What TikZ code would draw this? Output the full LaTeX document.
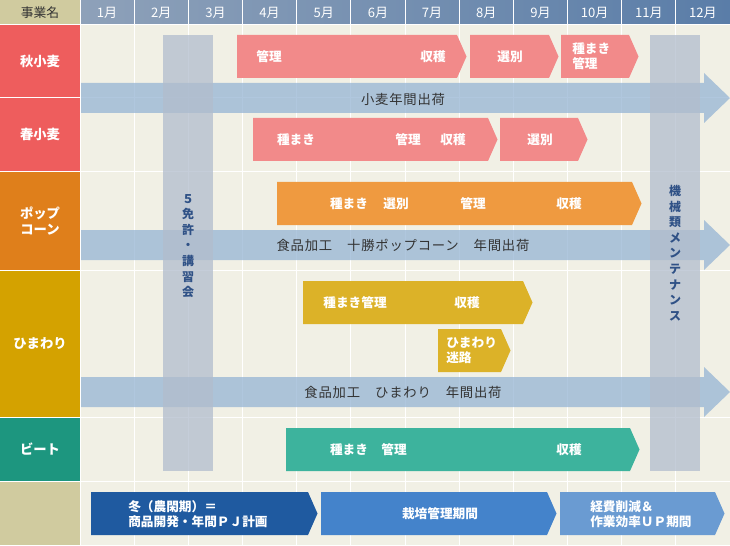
\documentclass[tikz,border=0pt]{standalone}
\usepackage{fontspec}
\setmainfont{Noto Sans CJK JP}
\usetikzlibrary{calc}
\definecolor{cream}{HTML}{F1F0E5}
\definecolor{khaki}{HTML}{D0CB9F}
\definecolor{hdleft}{HTML}{8EA1B9}
\definecolor{hdright}{HTML}{5A7DA8}
\definecolor{wheatlab}{HTML}{EE5D5D}
\definecolor{wheatbar}{HTML}{F28A8A}
\definecolor{poplab}{HTML}{DF7F1B}
\definecolor{popbar}{HTML}{EF9A40}
\definecolor{sunlab}{HTML}{D4A200}
\definecolor{sunbar}{HTML}{DCB228}
\definecolor{beetlab}{HTML}{1D967F}
\definecolor{beetbar}{HTML}{3DB39D}
\definecolor{shipblue}{RGB}{150,181,212}
\definecolor{bandgrey}{RGB}{178,189,205}
\definecolor{bandtext}{HTML}{2F5186}
\definecolor{winterblue}{HTML}{1F5AA0}
\definecolor{growblue}{HTML}{4483CB}
\definecolor{costblue}{HTML}{6A9BD2}
\definecolor{ink}{HTML}{333333}

% style, x left, x body end, y top, y bottom
\newcommand{\phasebar}[5]{%
  \fill[#1] (#2,#4) -- (#3,#4) -- ({#3+9.5},{(#4+#5)/2}) -- (#3,#5) -- (#2,#5) -- cycle;}
\newcommand{\shiparrow}[2]{%
  \fill[ship] (81,#1) -- (704,#1) -- (704,{#1-10}) -- (730,{(#1+#2)/2})
    -- (704,{#2+10}) -- (704,#2) -- (81,#2) -- cycle;}

\begin{document}
\begin{tikzpicture}[x=0.75pt, y=-0.75pt,
  month/.style={text=white, font=\fontsize{9.8}{11}\selectfont},
  rowlbl/.style={text=white, font=\fontsize{10}{12}\selectfont\bfseries, align=center},
  barlbl/.style={text=white, font=\fontsize{9.5}{11.3}\selectfont\bfseries, inner sep=0, align=left},
  shiplbl/.style={text=ink, font=\fontsize{10}{12}\selectfont\addfontfeature{LetterSpace=6}, inner sep=0},
  bandlbl/.style={text=bandtext, font=\fontsize{9}{11.7}\selectfont\bfseries, align=center, inner sep=0},
  ship/.style={fill=shipblue, fill opacity=0.75},
  band/.style={fill=bandgrey, fill opacity=0.75},
  gridline/.style={white, line width=0.75pt}]
\useasboundingbox (0,0) rectangle (730,545);
\fill[cream] (0,0) rectangle (730,545);

% header and row labels
\shade[left color=hdleft, right color=hdright] (80,0) rectangle (730,25);
\fill[khaki] (0,0) rectangle (80,25);
\fill[wheatlab] (0,25) rectangle (80,171.5);
\fill[poplab] (0,171.5) rectangle (80,270.5);
\fill[sunlab] (0,270.5) rectangle (80,417);
\fill[beetlab] (0,417) rectangle (80,481.5);
\fill[khaki] (0,481.5) rectangle (80,545);

\foreach \yy in {25,97.5,171.5,270.5,417,481.5}
  \draw[gridline] (0,\yy) -- (730,\yy);
\draw[gridline] (80,0) -- (80,545);
\foreach \m in {1,...,11}
  \draw[gridline] ({80+54.17*\m},0) -- ({80+54.17*\m},545);

\node[text=ink, font=\fontsize{9.6}{11}\selectfont] (head) at (40,13) {事業名};
\foreach \m in {1,...,12}
  \node[month] (m\m) at ({80+54.17*(\m-0.5)},13) {{\m}月};

\node[rowlbl] (aki) at (40,61) {秋小麦};
\node[rowlbl] (haru) at (40,134.5) {春小麦};
\node[rowlbl] (pop) at (40,221) {ポップ\\コーン};
\node[rowlbl] (sun) at (40,343.5) {ひまわり};
\node[rowlbl] (beet) at (40,449.5) {ビート};

% yearly shipping arrows and grey periods
\shiparrow{83}{113}
\shiparrow{230}{260}
\shiparrow{377}{407}
\fill[band] (163,35) rectangle (213,471);
\fill[band] (650,35) rectangle (700,471);

% work phases
\phasebar{wheatbar}{237}{457}{35}{78}
\phasebar{wheatbar}{470}{549}{35}{78}
\phasebar{wheatbar}{561}{629}{35}{78}
\phasebar{wheatbar}{253}{488}{118}{161}
\phasebar{wheatbar}{500}{578}{118}{161}
\phasebar{popbar}{277}{632}{182}{225}
\phasebar{sunbar}{303}{523}{281}{324}
\phasebar{sunbar}{438}{501}{329}{372}
\phasebar{beetbar}{286}{630}{428}{471}
\phasebar{winterblue}{91}{308}{492}{535}
\phasebar{growblue}{321}{547}{492}{535}
\phasebar{costblue}{560}{715}{492}{535}

\node[barlbl] (akiA) at (269,56.5) {管理};
\node[barlbl] (akiB) at (433,56.5) {収穫};
\node[barlbl] (akiC) at (510,56.5) {選別};
\node[barlbl, anchor=west] (akiD) at (572,56.5) {種まき\\管理};
\node[barlbl] (haruA) at (296,140) {種まき};
\node[barlbl] (haruB) at (408,140) {管理};
\node[barlbl] (haruC) at (453,140) {収穫};
\node[barlbl] (haruD) at (540,140) {選別};
\node[barlbl] (popA) at (349,203.5) {種まき};
\node[barlbl] (popB) at (396,203.5) {選別};
\node[barlbl] (popC) at (473,203.5) {管理};
\node[barlbl] (popD) at (569,203.5) {収穫};
\node[barlbl] (sunA) at (355,302.5) {種まき管理};
\node[barlbl] (sunB) at (467,302.5) {収穫};
\node[barlbl, anchor=west] (sunC) at (446,350.5) {ひまわり\\迷路};
\node[barlbl] (beetA) at (349,449.5) {種まき};
\node[barlbl] (beetB) at (394,449.5) {管理};
\node[barlbl] (beetC) at (569,449.5) {収穫};
\node[barlbl, anchor=west] (winterL) at (128,514) {冬（農閑期）＝\\商品開発・年間ＰＪ計画};
\node[barlbl] (growL) at (440,513.5) {栽培管理期間};
\node[barlbl, anchor=west] (costL) at (590,514) {経費削減＆\\作業効率ＵＰ期間};

\node[shiplbl] (shipA) at (403,99) {小麦年間出荷};
\node[shiplbl] (shipB) at (403,245.5) {食品加工　十勝ポップコーン　年間出荷};
\node[shiplbl] (shipC) at (403,392) {食品加工　ひまわり　年間出荷};

\node[bandlbl] (license) at (188,246) {５\\免\\許\\・\\講\\習\\会};
\node[bandlbl] (maint) at (675,253) {機\\械\\類\\メ\\ン\\テ\\ナ\\ン\\ス};
\end{tikzpicture}
\end{document}
